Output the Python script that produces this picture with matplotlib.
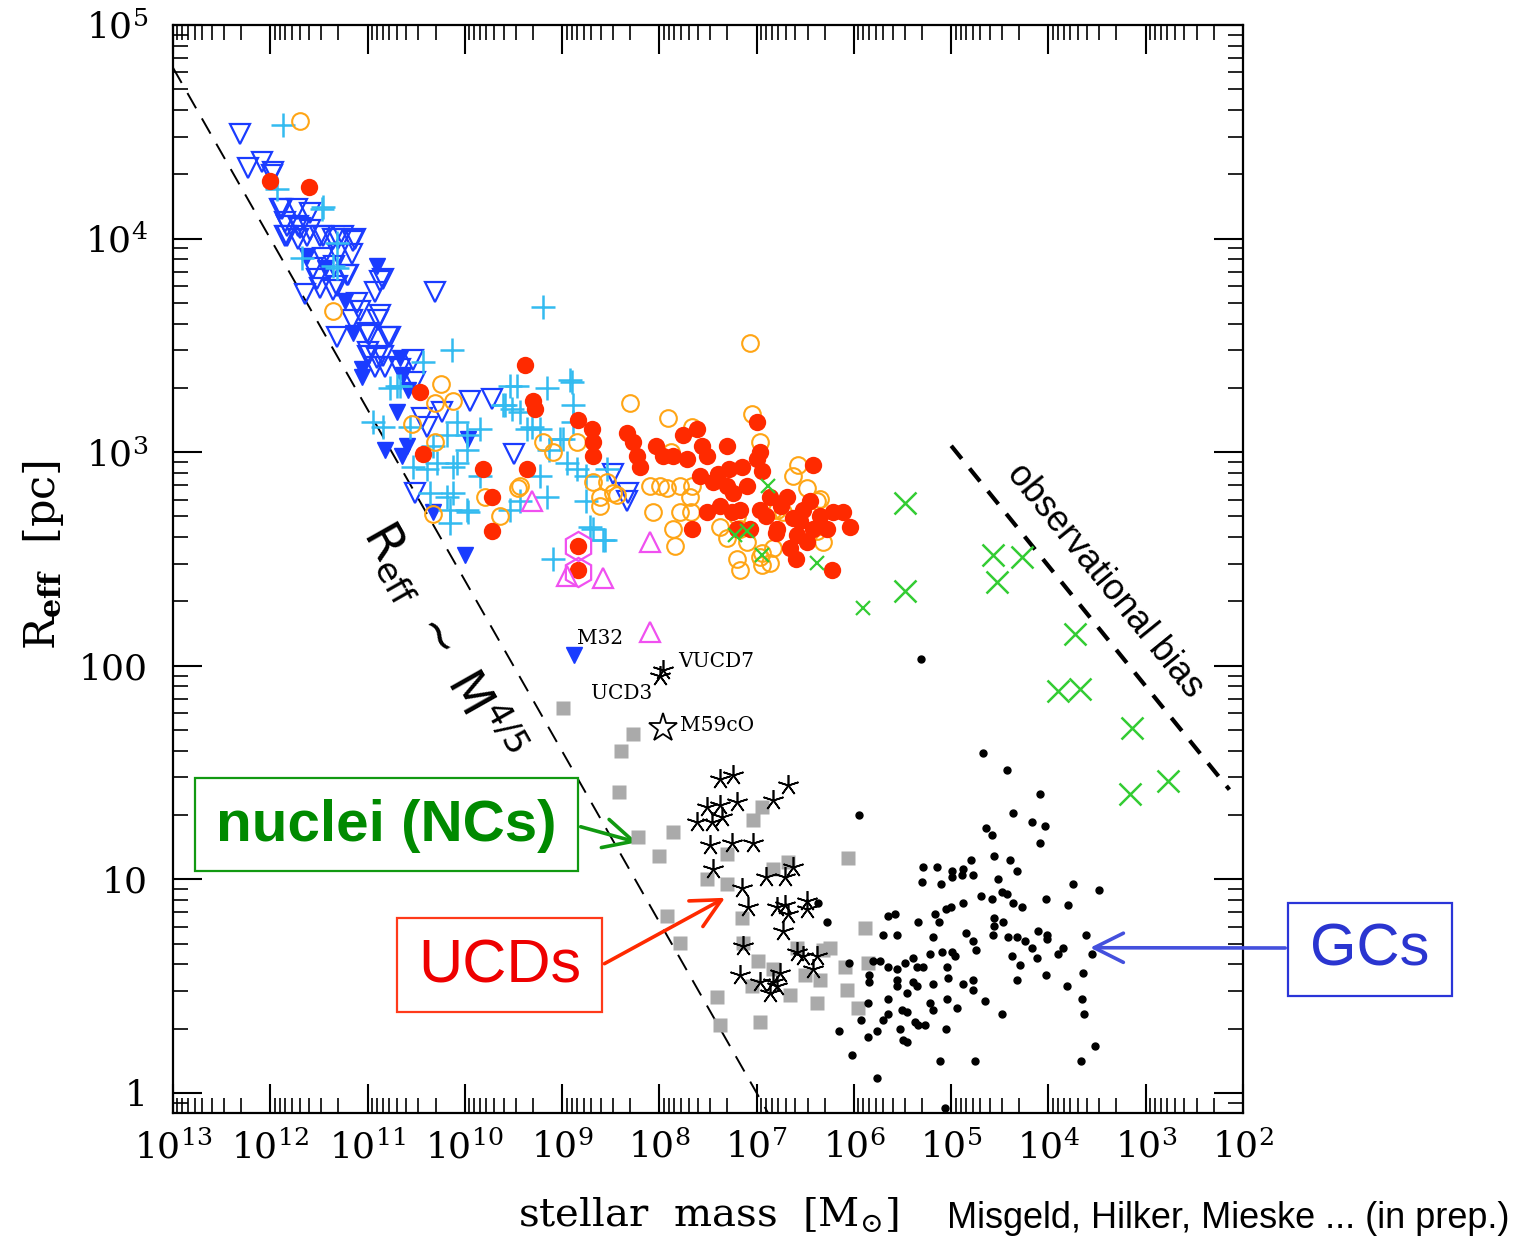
import numpy as np
import matplotlib
matplotlib.use("Agg")
import matplotlib.pyplot as plt
from matplotlib.patches import Rectangle
from matplotlib.ticker import LogLocator, NullFormatter

# all values are log10(stellar mass / Msun) and log10(R_eff / pc)

# giant ellipticals, open blue triangles
ell_open_logM = [12.31, 12.23, 12.09, 11.98, 11.90, 11.85, 11.83, 11.72, 11.59, 11.62, 11.46, 11.30,
                 11.15, 11.16, 11.20, 10.87, 10.92, 10.31, 10.87, 11.64, 11.52, 11.31, 11.97, 11.88,
                 11.73, 11.83, 11.69, 11.59, 11.85, 11.72, 11.49, 11.36, 11.25, 11.13, 11.46, 11.30,
                 11.56, 11.34, 11.21, 10.84, 11.49, 11.36, 11.11, 11.08, 11.16, 10.89, 10.79, 11.01,
                 11.31, 11.00, 10.90, 10.53, 10.98, 10.77, 11.00, 10.84, 10.92, 10.82, 10.67, 10.51,
                 9.95, 9.72, 10.44, 10.39, 10.23, 10.51, 9.49, 8.48, 8.32, 8.33]
ell_open_logR = [4.49, 4.33, 4.36, 4.30, 4.14, 4.08, 4.01, 4.06, 4.12, 4.01, 4.01, 4.00,
                 3.99, 3.93, 3.83, 3.80, 3.75, 3.75, 3.64, 3.74, 3.81, 3.78, 4.31, 4.14,
                 4.14, 4.06, 4.05, 4.04, 4.01, 4.00, 4.01, 4.00, 4.01, 4.00, 3.91, 3.93,
                 3.86, 3.87, 3.83, 3.81, 3.77, 3.76, 3.70, 3.66, 3.62, 3.62, 3.54, 3.56,
                 3.54, 3.45, 3.44, 3.43, 3.55, 3.54, 3.47, 3.45, 3.40, 3.40, 3.39, 3.33,
                 3.24, 3.25, 3.16, 3.12, 3.19, 2.81, 2.99, 2.90, 2.81, 2.77]

# filled blue triangles
ell_fill_logM = [10.90, 11.62, 11.44, 11.23, 11.15, 10.67, 11.06, 11.06, 10.64, 10.58, 10.70, 9.97,
                 10.82, 10.59, 10.65, 10.33, 10.00]
ell_fill_logR = [3.87, 3.92, 3.86, 3.71, 3.56, 3.44, 3.39, 3.35, 3.36, 3.29, 3.19, 3.06,
                 3.01, 3.03, 2.98, 2.72, 2.52]

# cyan pluses
plus_logM = [11.87, 11.93, 11.47, 11.67, 11.31, 11.46, 11.31, 11.36, 9.20, 10.13, 10.43, 10.70,
             10.84, 10.56, 10.08, 9.84, 9.98, 10.18, 10.33, 10.53, 10.29, 10.08, 9.84, 10.36,
             10.12, 10.15, 9.97, 9.54, 9.51, 10.77, 10.94, 9.59, 9.46, 9.16, 8.90, 9.61,
             9.43, 8.89, 9.36, 9.23, 8.89, 9.02, 9.13, 8.95, 8.85, 8.75, 8.54, 9.23,
             9.43, 9.54, 9.16, 8.75, 8.68, 8.58, 9.09, 10.12, 9.98, 10.18, 9.98, 10.15,
             10.39, 10.67, 8.92, 9.31, 8.99, 8.71, 8.56]
plus_logR = [4.53, 4.23, 4.14, 3.91, 3.98, 4.15, 3.86, 3.87, 3.68, 3.48, 3.42, 3.31,
             3.12, 3.12, 3.14, 3.11, 3.08, 3.08, 3.03, 2.93, 2.95, 2.95, 2.89, 2.81,
             2.81, 2.73, 2.72, 3.31, 3.20, 3.30, 3.14, 3.22, 3.31, 3.30, 3.33, 3.22,
             3.19, 3.22, 3.11, 3.11, 3.14, 3.06, 3.01, 2.95, 2.92, 2.89, 2.92, 2.89,
             2.77, 2.73, 2.79, 2.77, 2.64, 2.59, 2.50, 2.93, 3.01, 2.79, 2.73, 2.67,
             2.92, 3.31, 3.34, 3.12, 3.06, 2.65, 2.59]

# orange open circles
dw_open_logM = [11.69, 11.36, 10.24, 10.31, 10.12, 10.54, 10.31, 10.33, 9.79, 9.64, 9.45, 9.20,
                9.09, 8.85, 9.43, 8.30, 7.91, 7.66, 7.07, 7.05, 6.97, 8.68, 8.61, 8.48,
                8.61, 8.54, 8.44, 8.10, 7.99, 7.92, 7.79, 7.66, 8.07, 7.86, 7.79, 7.67,
                7.84, 7.69, 6.58, 6.63, 6.48, 6.38, 6.35, 6.79, 6.73, 6.83, 7.38, 7.17,
                7.20, 7.20, 7.17, 6.97, 6.86, 6.94, 6.83, 6.94, 6.32, 6.38, 7.30, 7.10, 7.88]
dw_open_logR = [4.55, 3.66, 3.32, 3.23, 3.24, 3.13, 3.05, 2.71, 2.79, 2.70, 2.83, 3.05,
                3.00, 3.05, 2.84, 3.23, 3.16, 3.12, 3.51, 3.18, 3.05, 2.86, 2.79, 2.81,
                2.75, 2.86, 2.80, 2.84, 2.84, 2.83, 2.84, 2.84, 2.72, 2.64, 2.72, 2.72,
                2.56, 2.79, 2.94, 2.89, 2.83, 2.77, 2.78, 2.73, 2.72, 2.73, 2.65, 2.64,
                2.70, 2.50, 2.45, 2.51, 2.48, 2.47, 2.55, 2.53, 2.58, 2.63, 2.60, 2.58, 3.00]

# red filled circles
dw_fill_logM = [12.00, 11.60, 10.46, 10.43, 9.81, 9.72, 9.72, 9.38, 9.30, 9.28, 9.36, 8.84,
                8.69, 8.68, 8.68, 8.84, 8.84, 8.33, 8.27, 8.23, 8.20, 8.03, 7.96, 7.86,
                7.76, 7.61, 7.72, 7.56, 7.51, 7.31, 7.58, 7.45, 7.66, 7.51, 7.38, 7.28,
                7.24, 7.10, 7.00, 7.00, 6.94, 6.86, 7.17, 7.20, 7.07, 6.97, 6.69, 6.63,
                6.59, 6.66, 6.48, 6.42, 6.28, 6.42, 6.22, 6.11, 6.04, 6.23, 6.45, 6.79,
                6.52, 7.31, 6.97, 7.40, 7.15, 6.75, 6.90, 7.25, 6.80, 6.55, 6.35, 6.60]
dw_fill_logR = [4.27, 4.24, 3.28, 2.99, 2.92, 2.79, 2.63, 3.41, 3.24, 3.20, 2.92, 3.15,
                3.11, 3.05, 2.98, 2.56, 2.45, 3.09, 3.05, 2.98, 2.93, 3.03, 2.98, 2.98,
                3.08, 3.11, 2.97, 3.03, 2.98, 3.03, 2.89, 2.86, 2.64, 2.72, 2.75, 2.92,
                2.81, 2.84, 3.14, 2.97, 2.91, 2.79, 2.73, 2.64, 2.64, 2.73, 2.79, 2.69,
                2.61, 2.55, 2.58, 2.64, 2.64, 2.94, 2.72, 2.72, 2.65, 2.45, 2.77, 2.64,
                2.73, 2.84, 3.00, 2.90, 2.93, 2.75, 2.70, 2.72, 2.62, 2.68, 2.70, 2.50]

# magenta open triangles and hexagons
mag_tri_logM = [9.31, 8.10, 8.58, 8.95, 8.10]
mag_tri_logR = [2.77, 2.58, 2.41, 2.42, 2.16]
mag_hex_logM = [8.84, 8.84]
mag_hex_logR = [2.56, 2.44]

# green crosses
grn_small_logM = [6.88, 7.22, 7.10, 6.95, 6.38, 5.91]
grn_small_logR = [2.84, 2.61, 2.63, 2.52, 2.48, 2.27]
grn_big_logM = [5.48, 5.48, 4.57, 4.27, 4.53, 3.73, 3.90, 3.68, 3.14, 3.16, 2.77]
grn_big_logR = [2.76, 2.35, 2.52, 2.51, 2.39, 2.15, 1.88, 1.89, 1.71, 1.40, 1.46]

# grey squares (nuclei)
nuc_logM = [8.99, 8.27, 8.39, 8.41, 8.22, 8.00, 7.86, 7.92, 7.79, 7.41, 6.83, 7.04,
            6.95, 7.31, 7.51, 7.31, 7.15, 6.68, 7.14, 6.99, 6.83, 6.59, 6.32, 6.35,
            6.38, 6.07, 6.06, 5.89, 6.25, 6.09, 5.86, 5.96, 6.97, 7.38, 6.66, 7.05, 6.50]
nuc_logR = [1.80, 1.68, 1.60, 1.41, 1.20, 1.11, 1.22, 0.83, 0.70, 0.45, 1.05, 1.28,
            1.34, 1.12, 1.00, 0.98, 0.82, 1.08, 0.70, 0.62, 0.58, 0.68, 0.67, 0.53,
            0.42, 0.48, 1.10, 0.77, 0.68, 0.59, 0.61, 0.40, 0.33, 0.32, 0.46, 0.50, 0.55]

# UCDs, asterisks
ucd_logM = [7.38, 7.24, 7.51, 7.38, 7.20, 7.61, 7.46, 7.36, 7.48, 7.25, 7.04, 7.45,
            6.83, 6.68, 7.15, 7.09, 6.90, 6.71, 6.63, 6.79, 6.71, 6.68, 6.48, 6.48,
            6.73, 7.14, 6.59, 6.52, 6.38, 6.42, 7.17, 6.97, 6.83, 6.76, 6.86, 6.79]
ucd_logR = [1.47, 1.49, 1.34, 1.35, 1.36, 1.27, 1.27, 1.29, 1.16, 1.17, 1.17, 1.05,
            1.37, 1.44, 0.96, 0.87, 1.01, 1.01, 1.06, 0.87, 0.88, 0.84, 0.90, 0.86,
            0.76, 0.69, 0.66, 0.64, 0.64, 0.58, 0.55, 0.52, 0.52, 0.56, 0.47, 0.50]

# globular clusters, small dots
gc_logM = [4.67, 4.43, 4.09, 5.95, 4.36, 4.17, 4.04, 4.64, 4.58, 4.09, 4.56, 4.40,
           4.32, 4.80, 4.88, 4.99, 5.15, 5.29, 5.30, 5.10, 4.99, 4.89, 4.78, 4.52,
           4.69, 4.58, 4.48, 4.43, 4.36, 4.27, 4.03, 3.75, 3.48, 3.80, 4.88, 5.05,
           5.00, 5.17, 5.58, 5.65, 5.34, 5.13, 4.56, 4.56, 4.47, 4.85, 4.57, 4.42,
           4.32, 4.24, 4.17, 4.11, 4.02, 4.02, 3.85, 3.61, 3.55, 4.12, 3.90, 4.29,
           4.37, 4.78, 4.75, 5.19, 5.09, 4.99, 4.96, 5.22, 5.70, 5.56, 6.05, 5.80,
           5.73, 5.65, 5.56, 5.48, 5.39, 5.35, 5.29, 5.04, 5.84, 5.84, 5.56, 5.56,
           5.39, 5.35, 5.19, 5.03, 4.88, 4.78, 4.78, 4.32, 3.81, 3.65, 4.03, 4.65,
           4.48, 3.66, 3.64, 5.86, 5.65, 5.45, 5.22, 5.19, 5.04, 4.94, 5.51, 5.45,
           5.65, 5.93, 5.70, 5.53, 5.37, 5.34, 5.27, 5.05, 5.76, 5.86, 6.15, 5.50,
           5.45, 6.02, 5.12, 4.76, 3.67, 3.52, 5.76, 6.37, 6.28, 5.31, 5.06]
gc_logR = [1.59, 1.51, 1.40, 1.30, 1.31, 1.27, 1.25, 1.24, 1.21, 1.17, 1.11, 1.09,
           1.04, 1.09, 1.05, 1.04, 1.06, 1.06, 0.99, 0.98, 1.01, 1.02, 1.02, 1.00,
           0.92, 0.91, 0.94, 0.93, 0.89, 0.87, 0.91, 0.98, 0.95, 0.88, 0.89, 0.86,
           0.87, 0.84, 0.84, 0.83, 0.80, 0.80, 0.82, 0.78, 0.80, 0.75, 0.74, 0.73,
           0.73, 0.71, 0.68, 0.76, 0.74, 0.72, 0.68, 0.74, 0.65, 0.63, 0.65, 0.60,
           0.64, 0.71, 0.67, 0.73, 0.66, 0.66, 0.64, 0.65, 0.74, 0.74, 0.61, 0.62,
           0.62, 0.59, 0.58, 0.61, 0.63, 0.59, 0.59, 0.59, 0.55, 0.52, 0.53, 0.50,
           0.52, 0.50, 0.51, 0.54, 0.51, 0.53, 0.48, 0.53, 0.50, 0.56, 0.55, 0.43,
           0.37, 0.44, 0.37, 0.42, 0.44, 0.47, 0.42, 0.39, 0.44, 0.40, 0.39, 0.38,
           0.37, 0.34, 0.34, 0.30, 0.33, 0.32, 0.32, 0.30, 0.29, 0.26, 0.29, 0.25,
           0.24, 0.18, 0.15, 0.15, 0.15, 0.22, 0.07, 0.89, 0.80, 2.03, -0.07]

# named objects
m32_logM, m32_logR = 8.88, 2.05
vucd7_logM, vucd7_logR = 7.96, 1.98
ucd3_logM, ucd3_logR = 7.99, 1.95
m59co_logM, m59co_logR = 7.96, 1.71

# R_eff ~ M^(4/5) line and observational bias line (end points)
powlaw_logM = [13.0, 6.8]
powlaw_logR = [4.8, -0.16]
bias_logM = [5.0, 2.14]
bias_logR = [3.03, 1.42]

xtick_vals = [10.0 ** k for k in range(2, 14)]
xtick_labels = [r'$10^{%d}$' % k for k in range(2, 14)]
ytick_vals = [1, 10, 100, 1e3, 1e4, 1e5]
ytick_labels = ['1', '10', '100', r'$10^3$', r'$10^4$', r'$10^5$']

BLUE = '#1a3cff'
CYAN = '#33bbf0'
ORANGE = '#ffa515'
RED = '#ff2a00'
MAGENTA = '#f050f0'
GREEN = '#33cc33'
GREY = '#aaaaaa'

plt.rcParams['font.family'] = 'DejaVu Serif'
plt.rcParams['mathtext.fontset'] = 'dejavuserif'


def p(v):
    return 10.0 ** np.asarray(v)


fig = plt.figure(figsize=(15.35, 12.38), dpi=100)
ax = fig.add_axes([0.1127, 0.1010, 0.6971, 0.8788])
ax.set_xscale('log')
ax.set_yscale('log')
ax.set_xlim(1e13, 1e2)
ax.set_ylim(0.806, 1e5)

ax.plot(p(powlaw_logM), p(powlaw_logR), color='black', lw=1.4, dashes=(9, 6), zorder=1)
ax.plot(p(bias_logM), p(bias_logR), color='black', lw=3, dashes=(4, 3), zorder=1)

ax.plot(p(ell_open_logM), p(ell_open_logR), ls='none', marker='v', ms=14, mfc='none', mec=BLUE, mew=1.6, zorder=2)
ax.plot(p(ell_fill_logM), p(ell_fill_logR), ls='none', marker='v', ms=11, color=BLUE, zorder=2)
ax.plot(p(plus_logM), p(plus_logR), ls='none', marker='+', ms=17, mec=CYAN, mew=1.8, zorder=3)
ax.plot(p(dw_open_logM), p(dw_open_logR), ls='none', marker='o', ms=12, mfc='none', mec=ORANGE, mew=1.5, zorder=3)
ax.plot(p(dw_fill_logM), p(dw_fill_logR), ls='none', marker='o', ms=12.5, color=RED, mec='none', zorder=4)
ax.plot(p(mag_tri_logM), p(mag_tri_logR), ls='none', marker='^', ms=15, mfc='none', mec=MAGENTA, mew=1.6, zorder=5)
ax.plot(p(mag_hex_logM), p(mag_hex_logR), ls='none', marker='h', ms=21, mfc='none', mec=MAGENTA, mew=1.6, zorder=5)
ax.plot(p(grn_small_logM), p(grn_small_logR), ls='none', marker='x', ms=10, mec=GREEN, mew=1.6, zorder=5)
ax.plot(p(grn_big_logM), p(grn_big_logR), ls='none', marker='x', ms=16, mec=GREEN, mew=1.8, zorder=5)
ax.plot(p(nuc_logM), p(nuc_logR), ls='none', marker='s', ms=9.5, color=GREY, mec='none', zorder=5)
ax.plot(p(ucd_logM), p(ucd_logR), ls='none', marker=(5, 2, 0), ms=15, mec='black', mew=1.2, zorder=6)
ax.plot(p(gc_logM), p(gc_logR), ls='none', marker='o', ms=5, color='black', zorder=6)

# named objects
ax.plot(p(m32_logM), p(m32_logR), ls='none', marker='v', ms=11, color=BLUE, zorder=6)
ax.plot(p([vucd7_logM, ucd3_logM]), p([vucd7_logR, ucd3_logR]), ls='none', marker=(5, 2, 0), ms=15,
        mec='black', mew=1.2, zorder=6)
ax.plot(p(m59co_logM), p(m59co_logR), ls='none', marker='*', ms=21, mfc='none', mec='black', mew=1.3, zorder=6)
lab = dict(fontsize=14.5, family='DejaVu Serif', va='center')
ax.text(p(8.85), p(2.13), 'M32', ha='left', **lab)
ax.text(p(7.81), p(2.02), 'VUCD7', ha='left', **lab)
ax.text(p(8.39), p(1.87), 'UCD3', ha='center', **lab)
ax.text(p(7.79), p(1.72), 'M59cO', ha='left', **lab)

ax.text(p(10.22), p(2.12), r'$\mathsf{R_{eff}\ \sim\ M^{4/5}}$', fontsize=35, rotation=-60.5,
        rotation_mode='anchor', ha='center', va='center', zorder=7)
ax.text(p(3.42), p(2.40), 'observational bias', family='Liberation Sans', fontsize=26,
        rotation=-50.9, rotation_mode='anchor', ha='center', va='center', zorder=7)

# ticks
ax.set_xticks(xtick_vals)
ax.set_xticklabels(xtick_labels)
ax.set_yticks(ytick_vals)
ax.set_yticklabels(ytick_labels)
ax.xaxis.set_minor_locator(LogLocator(base=10, subs=np.arange(2, 10), numticks=40))
ax.yaxis.set_minor_locator(LogLocator(base=10, subs=np.arange(2, 10), numticks=40))
ax.xaxis.set_minor_formatter(NullFormatter())
ax.yaxis.set_minor_formatter(NullFormatter())
ax.tick_params(which='both', direction='in', top=True, right=True, labelsize=26)
ax.tick_params(which='major', length=21, width=1.5)
ax.tick_params(which='minor', length=11, width=1.2)
ax.tick_params(axis='x', pad=12)
ax.tick_params(axis='y', pad=18)
for s in ax.spines.values():
    s.set_linewidth(1.6)

ax.set_xlabel(r'stellar  mass  $\left[\mathrm{M}_{\odot}\right]$', fontsize=29)
ax.xaxis.set_label_coords(0.5, -0.075)
ax.set_ylabel(r'$\mathrm{R}_{\mathbf{eff}}$  $\left[\mathrm{pc}\right]$', fontsize=31)
ax.yaxis.set_label_coords(-0.100, 0.513)

# labelled boxes with arrows
W, H = 1535.0, 1238.0


def box(x0, y0, x1, y1, color):
    fig.patches.append(Rectangle((x0 / W, 1 - y1 / H), (x1 - x0) / W, (y1 - y0) / H,
                                 transform=fig.transFigure, fill=False, ec=color, lw=1.6, zorder=8))


box(195, 778, 578, 871, '#119911')
fig.text(386.5 / W, 1 - 826 / H, 'nuclei (NCs)', family='Liberation Sans', fontweight='bold',
         fontsize=42, color='#008a00', ha='center', va='center')
box(397, 918, 602, 1012, '#ff3a1a')
fig.text(499.5 / W, 1 - 967 / H, 'UCDs', family='Liberation Sans', fontsize=44,
         color='#ee0000', ha='center', va='center')
box(1288, 903, 1452, 996, '#2a35d8')
fig.text(1370 / W, 1 - 950 / H, 'GCs', family='Liberation Sans', fontsize=43,
         color='#2a35d0', ha='center', va='center')

arr = dict(arrowstyle='->,head_length=0.7,head_width=0.35', mutation_scale=30, lw=2.6)
ax.annotate('', xy=(p(8.20), p(1.17)), xycoords='data', xytext=(578 / W, 1 - 826 / H),
            textcoords='figure fraction', arrowprops=dict(color='#119911', **arr), annotation_clip=False)
ax.annotate('', xy=(p(7.30), p(0.92)), xycoords='data', xytext=(602 / W, 1 - 965 / H),
            textcoords='figure fraction', arrowprops=dict(color='#ff2a00', **arr), annotation_clip=False)
ax.annotate('', xy=(p(3.60), p(0.68)), xycoords='data', xytext=(1288 / W, 1 - 948 / H),
            textcoords='figure fraction', arrowprops=dict(color='#4450dd', **arr), annotation_clip=False)

fig.text(947 / W, 1 - 1218 / H, 'Misgeld, Hilker, Mieske ... (in prep.)', family='Liberation Sans',
         fontsize=26, ha='left', va='center')

fig.savefig('out.png', dpi=100)
